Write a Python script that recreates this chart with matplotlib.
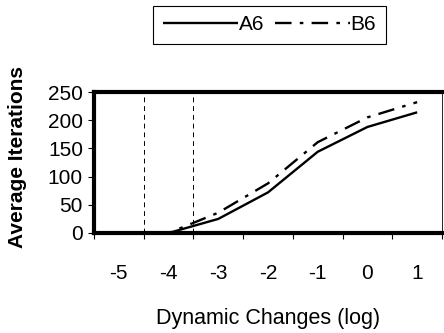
import matplotlib
matplotlib.use("Agg")
import matplotlib.pyplot as plt
import numpy as np

categories = ["-5", "-4", "-3", "-2", "-1", "0", "1"]
a6 = [0, 0, 25, 72, 144, 188, 214]
b6 = [0, 0, 36, 88, 161, 205, 232]
yticks = [0, 50, 100, 150, 200, 250]
vlines_at = [0.5, 1.5]

plt.rcParams['font.family'] = ['Liberation Sans', 'DejaVu Sans']

fig = plt.figure(figsize=(4.44, 3.33), dpi=100)
ax = fig.add_axes([94/444, 1-233/333, (442-94)/444, (233-92)/333])

x = np.arange(len(categories))
l1, = ax.plot(x, a6, color='black', lw=1.7, solid_capstyle='butt', label='A6')
l2, = ax.plot(x, b6, color='black', lw=1.7, dashes=(7, 3.5, 1.5, 3.5), label='B6')

for v in vlines_at:
    ax.axvline(v, color='black', lw=0.7, dashes=(5, 4))

ax.set_xlim(-0.5, len(categories) - 0.5)
ax.set_ylim(0, 250)
ax.set_yticks(yticks)
ax.set_yticklabels([str(t) for t in yticks], fontsize=15)

ax.set_xticks(np.arange(len(categories) + 1) - 0.5)
ax.set_xticklabels([])
ax.set_xticks(x, minor=True)
ax.set_xticklabels(categories, minor=True, fontsize=15)
ax.tick_params(axis='x', which='minor', length=0, pad=22)
ax.tick_params(axis='x', which='major', length=4, width=0.8, direction='out')
ax.tick_params(axis='y', length=4, width=0.8, direction='out', pad=4)

for s in ['left', 'top', 'bottom']:
    ax.spines[s].set_linewidth(3)
ax.spines['right'].set_linewidth(0.6)

ax.set_xlabel("Dynamic Changes (log)", fontsize=15.5, labelpad=18)
ax.set_ylabel("Average Iterations", fontsize=15, fontweight='bold')
ax.yaxis.set_label_coords(-(94-27)/348, (233-157)/141)

leg = fig.legend(handles=[l1, l2], loc='center', bbox_to_anchor=(269.5/444, 1-25/333),
                 ncol=2, fontsize=15, frameon=True, fancybox=False, edgecolor='black',
                 framealpha=1, handlelength=3.6, columnspacing=0.5, handletextpad=0.05,
                 borderpad=0.45, borderaxespad=0)
leg.get_frame().set_linewidth(0.8)

fig.savefig("out.png", dpi=100)
